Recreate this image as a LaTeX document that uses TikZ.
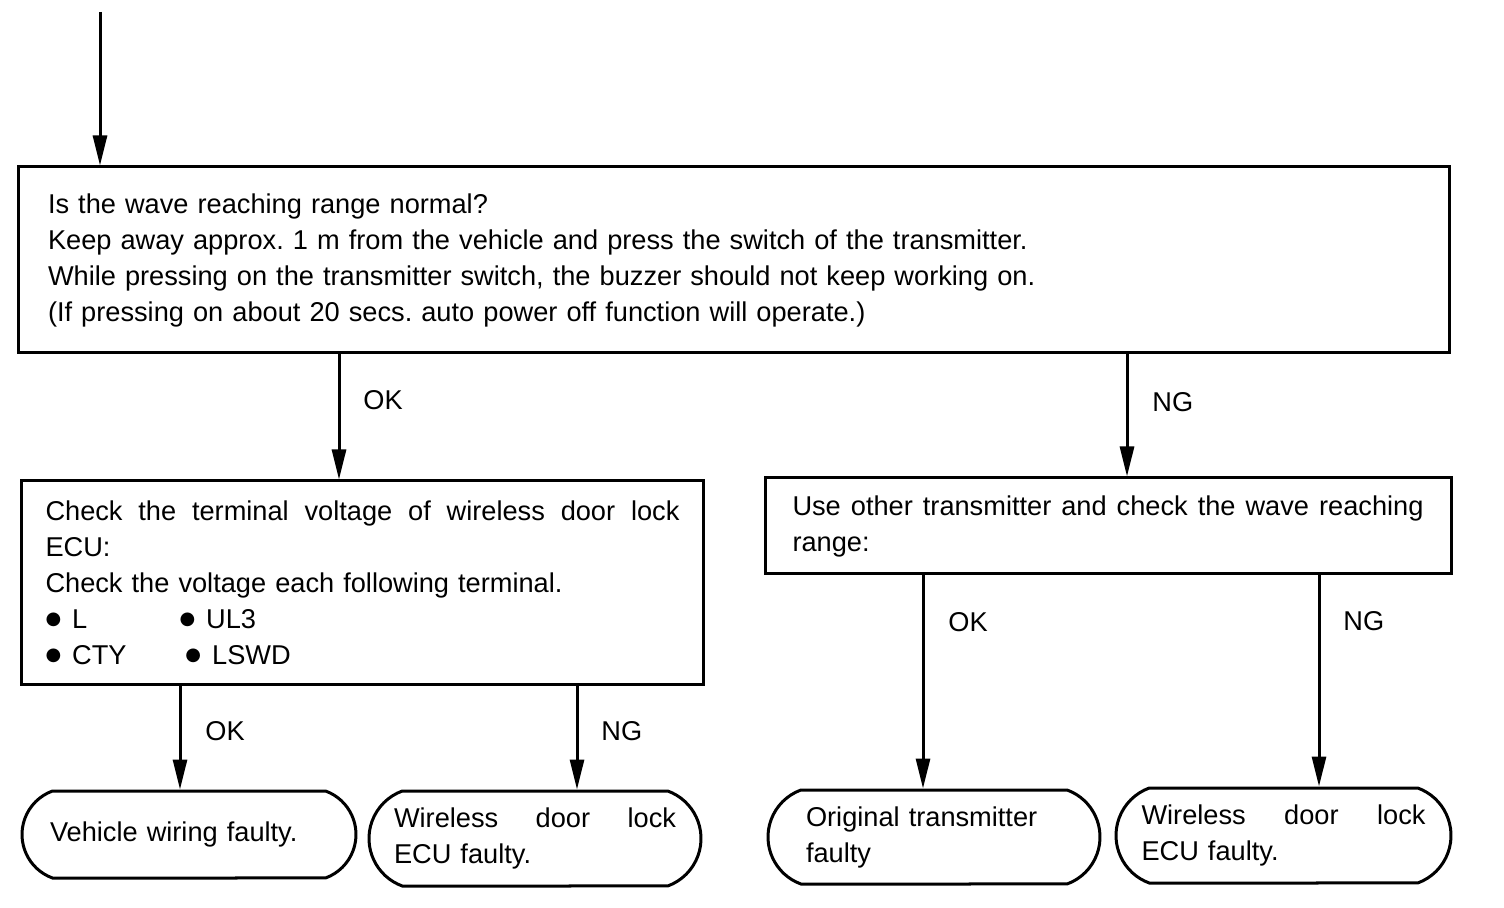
\documentclass[tikz,border=0pt]{standalone}
\usepackage{fontspec}
\setmainfont{Liberation Sans}
\newfontfamily\dvs{DejaVu Sans}
\usetikzlibrary{arrows.meta,shapes.misc}
\newcommand\spreadline[2]{\hbox to #1{\spaceskip=0.3em plus 1fil\relax #2}}
\newcommand\bul{\raisebox{2pt}{\dvs\fontsize{9}{9}\selectfont ●}\hspace{5.5pt}}
\frenchspacing
\begin{document}
\begin{tikzpicture}[x=0.5pt,y=-0.5pt,
  every node/.style={font=\fontsize{13.6}{18}\selectfont},
  box/.style={draw,line width=1.5pt,rectangle,align=left,inner ysep=0pt},
  term/.style={draw,line width=1.5pt,rounded rectangle,rounded rectangle arc length=140,align=left,inner sep=0pt},
  arr/.style={line width=1.5pt,-{Triangle[length=15pt,width=7pt]}},
  lbl/.style={anchor=west,inner sep=0pt}]
\useasboundingbox (0,0) rectangle (1504,908);
% main question box
\node[box,text width=685.5pt,inner xsep=15pt,minimum height=93pt] (main) at (733.5,260)
 {Is the wave reaching range normal?\\
  Keep away approx. 1 m from the vehicle and press the switch of the transmitter.\\
  While pressing on the transmitter switch, the buzzer should not keep working on.\\
  (If pressing on about 20 secs. auto power off function will operate.)};
% second level
\node[box,text width=317pt,inner xsep=12pt,minimum height=101.5pt] (boxA) at (362.5,582.5)
 {\spreadline{317pt}{Check the terminal voltage of wireless door lock}
  ECU:\\
  Check the voltage each following terminal.\\
  \makebox[67pt][l]{\bul L}\bul UL3\\
  \makebox[70pt][l]{\bul CTY}\bul LSWD};
\node[box,text width=315.5pt,inner xsep=13.75pt,minimum height=48pt] (boxB) at (1108,526)
 {\spreadline{315.5pt}{Use other transmitter and check the wave reaching}
  range:};
% terminals
\node[term,text width=139pt,minimum width=167pt,minimum height=43.5pt] (t1) at (189,834.5)
 {Vehicle wiring faulty.};
\node[term,text width=141pt,minimum width=166pt,minimum height=47.5pt] (t2) at (535,838.5)
 {\spreadline{141pt}{Wireless door lock}
  ECU faulty.};
\node[term,text width=128pt,minimum width=166pt,minimum height=47pt] (t3) at (934,837)
 {Original transmitter\\faulty};
\node[term,text width=142pt,minimum width=167.5pt,minimum height=47.5pt] (t4) at (1283.5,835.5)
 {\spreadline{142pt}{Wireless door lock}
  ECU faulty.};
% connector x positions
\coordinate (start) at (100,12);
\coordinate (xa) at (339,0);
\coordinate (xb) at (1127,0);
\coordinate (x1) at (180,0);
\coordinate (x2) at (577,0);
\coordinate (x3) at (923,0);
\coordinate (x4) at (1319,0);
% connectors
\draw[arr] (start) -- (main.north -| start);
\draw[arr] (main.south -| xa) -- (boxA.north -| xa);
\draw[arr] (main.south -| xb) -- (boxB.north -| xb);
\draw[arr] (boxA.south -| x1) -- (t1.north -| x1);
\draw[arr] (boxA.south -| x2) -- (t2.north -| x2);
\draw[arr] (boxB.south -| x3) -- (t3.north -| x3);
\draw[arr] (boxB.south -| x4) -- (t4.north -| x4);
% labels
\node[lbl] (l1) at (363,400) {OK};
\node[lbl] (l2) at (1152,402) {NG};
\node[lbl] (l3) at (205,731) {OK};
\node[lbl] (l4) at (601,731) {NG};
\node[lbl] (l5) at (948,622) {OK};
\node[lbl] (l6) at (1343,621) {NG};
\end{tikzpicture}
\end{document}
